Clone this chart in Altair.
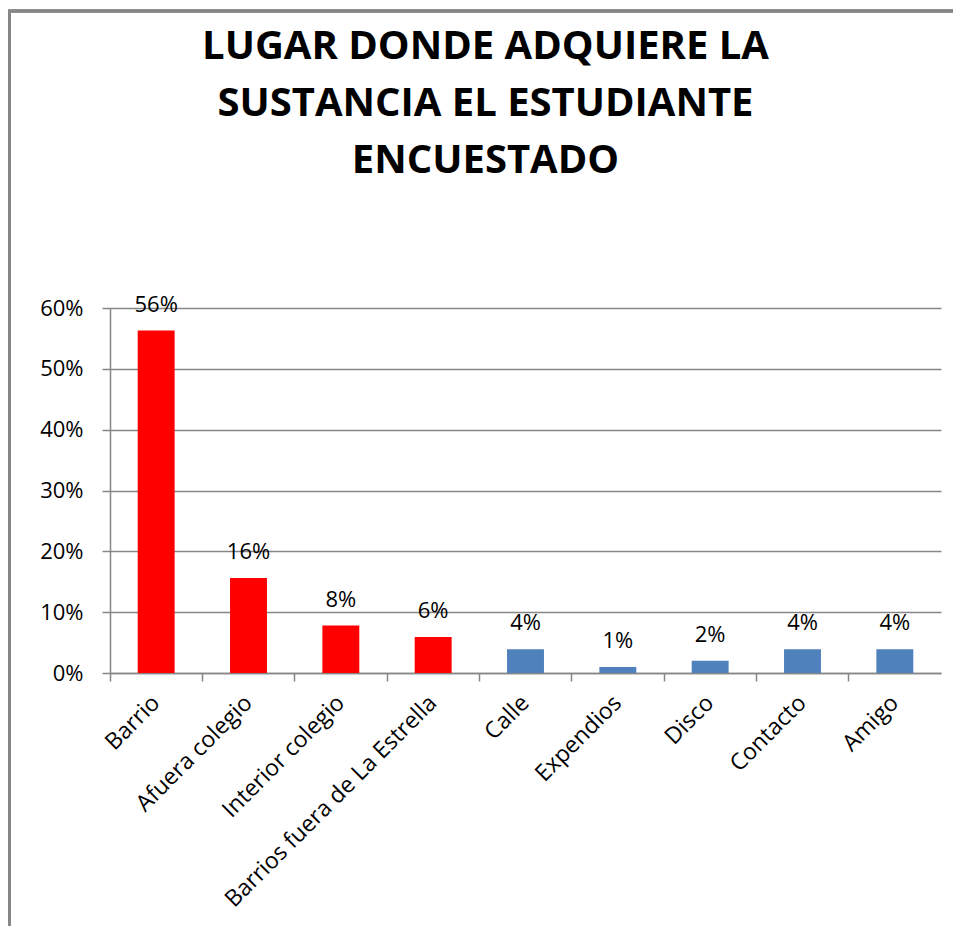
import altair as alt
import pandas as pd

categories = ["Barrio", "Afuera colegio", "Interior colegio", "Barrios fuera de La Estrella",
              "Calle", "Expendios", "Disco", "Contacto", "Amigo"]
values = [0.563, 0.156, 0.078, 0.059, 0.039, 0.010, 0.020, 0.039, 0.039]
labels = ["56%", "16%", "8%", "6%", "4%", "1%", "2%", "4%", "4%"]
colors = ["#FF0000", "#FF0000", "#FF0000", "#FF0000",
          "#4F81BD", "#4F81BD", "#4F81BD", "#4F81BD", "#4F81BD"]

df = pd.DataFrame({"cat": categories, "val": values, "lab": labels, "col": colors})

FONT = "Open Sans"
GRAY = "#868686"

xscale = alt.Scale(domain=categories, paddingInner=0, paddingOuter=0)
yscale = alt.Scale(domain=[0, 0.6], nice=False)

base = alt.Chart(df)

bars = base.mark_bar(width=alt.RelativeBandSize(0.4)).encode(
    x=alt.X("cat:N", scale=xscale, sort=categories, title=None,
            axis=alt.Axis(orient="bottom", labelAngle=-45, labelAlign="right", labelBaseline="middle",
                          ticks=False, labelPadding=26, labelFontSize=23, labelFont=FONT,
                          labelColor="#000000", domainColor=GRAY, domainWidth=1.5, grid=False,
                          labelLimit=400)),
    y=alt.Y("val:Q", scale=yscale, title=None,
            axis=alt.Axis(format=".0%", values=[0, 0.1, 0.2, 0.3, 0.4, 0.5, 0.6],
                          tickSize=8, tickColor=GRAY, tickWidth=1.5, labelPadding=19,
                          labelFontSize=22, labelFont=FONT, labelColor="#000000",
                          domainColor=GRAY, domainWidth=1.5, gridColor=GRAY, gridWidth=1.5)),
    color=alt.Color("col:N", scale=None, legend=None),
)

text = base.mark_text(baseline="alphabetic", dy=-19, fontSize=22, font=FONT, color="#000000").encode(
    x=alt.X("cat:N", scale=xscale, sort=categories, title=None,
            axis=alt.Axis(orient="bottom", labels=False, ticks=True, bandPosition=0, tickSize=8,
                          tickColor=GRAY, tickWidth=1.5, domain=False, grid=False)),
    y=alt.Y("val:Q", scale=yscale),
    text="lab:N",
)

frame = base.mark_rect(fill=None, stroke=GRAY, strokeWidth=2.5).encode(
    x=alt.value(-100.5), x2=alt.value(1200), y=alt.value(-297), y2=alt.value(1200)
)

chart = alt.layer(frame, bars, text).resolve_axis(x="independent").properties(
    width=831,
    height=365,
    autosize=alt.AutoSizeParams(type="none"),
    padding={"left": 102, "top": 300, "right": 12, "bottom": 253},
    title=alt.Title(
        ["LUGAR DONDE ADQUIERE LA", "SUSTANCIA EL ESTUDIANTE", "ENCUESTADO"],
        font=FONT, fontSize=40, fontWeight="bold", color="#000000",
        anchor="middle", dx=-40, offset=-203, lineHeight=57, baseline="alphabetic",
    ),
).configure_view(stroke=None)

chart.save("out.html", embed_options={"renderer": "svg", "actions": False})
